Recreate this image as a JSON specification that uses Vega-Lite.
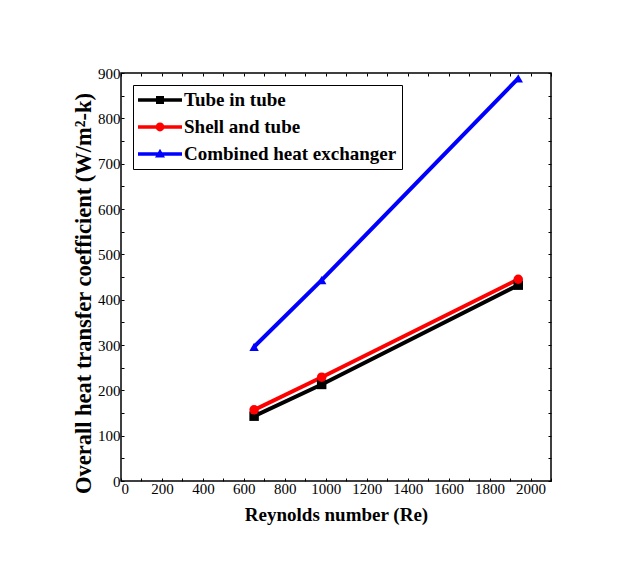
{
  "$schema": "https://vega.github.io/schema/vega-lite/v6.json",
  "width": 430,
  "height": 408,
  "autosize": {"type": "none"},
  "padding": {"left": 121, "top": 73, "right": 84, "bottom": 91},
  "background": "white",
  "config": {
    "view": {"stroke": "black", "strokeWidth": 1.5},
    "axis": {
      "grid": false,
      "domain": false,
      "tickColor": "black",
      "tickSize": -3,
      "tickWidth": 1,
      "labelFont": "Liberation Sans Narrow",
      "labelFontSize": 15,
      "labelColor": "black",
      "titleFont": "Liberation Serif",
      "titleFontWeight": "bold",
      "titleFontSize": 19,
      "titleColor": "black"
    }
  },
  "data": {
    "values": [
      {"Re": 650, "U": 143, "Series": "Tube in tube", "Marker": "a"},
      {"Re": 980, "U": 213, "Series": "Tube in tube", "Marker": "a"},
      {"Re": 1940, "U": 432, "Series": "Tube in tube", "Marker": "a"},
      {"Re": 650, "U": 157, "Series": "Shell and tube", "Marker": "b"},
      {"Re": 980, "U": 229, "Series": "Shell and tube", "Marker": "b"},
      {"Re": 1940, "U": 445, "Series": "Shell and tube", "Marker": "b"},
      {"Re": 650, "U": 296, "Series": "Combined heat exchanger", "Marker": "c"},
      {"Re": 980, "U": 443, "Series": "Combined heat exchanger", "Marker": "c"},
      {"Re": 1940, "U": 888, "Series": "Combined heat exchanger", "Marker": "c"}
    ]
  },
  "resolve": {"axis": {"x": "independent", "y": "independent"}},
  "layer": [
    {
      "mark": {"type": "line", "strokeWidth": 4},
      "encoding": {
        "x": {
          "field": "Re", "type": "quantitative",
          "scale": {"domain": [0, 2100], "nice": false},
          "axis": {
            "title": "Reynolds number (Re)",
            "values": [0,100,200,300,400,500,600,700,800,900,1000,1100,1200,1300,1400,1500,1600,1700,1800,1900,2000,2100],
            "format": "d",
            "labelExpr": "datum.value % 200 == 0 ? datum.label : ''",
            "labelPadding": 3,
            "titlePadding": 9
          }
        },
        "y": {
          "field": "U", "type": "quantitative",
          "scale": {"domain": [0, 900], "nice": false},
          "axis": {
            "title": "Overall heat transfer coefficient (W/m²-k)",
            "titleFontSize": 22.5,
            "titleY": 220,
            "values": [0,50,100,150,200,250,300,350,400,450,500,550,600,650,700,750,800,850,900],
            "labelExpr": "datum.value % 100 == 0 ? datum.label : ''",
            "labelPadding": 4,
            "titlePadding": 2
          }
        },
        "color": {
          "field": "Series", "type": "nominal",
          "scale": {
            "domain": ["Tube in tube", "Shell and tube", "Combined heat exchanger"],
            "range": ["black", "red", "blue"]
          },
          "legend": {
            "title": null,
            "orient": "none",
            "legendX": 12,
            "legendY": 12,
            "fillColor": "white",
            "strokeColor": "black",
            "padding": 5,
            "rowPadding": 7,
            "labelFont": "Liberation Serif",
            "labelFontWeight": "bold",
            "labelFontSize": 19,
            "labelColor": "black",
            "labelLimit": 0,
            "labelOffset": 26,
            "symbolSize": 400,
            "encode": {
              "symbols": {
                "update": {
                  "shape": {"signal": "datum.value === 'Tube in tube' ? 'M-1,-0.18H3.4V0.18H-1Z M0.8,-0.4H1.6V0.4H0.8Z' : datum.value === 'Shell and tube' ? 'M-1,-0.18H3.4V0.18H-1Z M0.76,0A0.44,0.44 0 1,1 1.64,0A0.44,0.44 0 1,1 0.76,0Z' : 'M-1,-0.18H3.4V0.18H-1Z M0.7,0.36L1.2,-0.52L1.7,0.36Z'"},
                  "fill": {"signal": "datum.value === 'Tube in tube' ? 'black' : datum.value === 'Shell and tube' ? 'red' : 'blue'"},
                  "stroke": {"value": "transparent"},
                  "strokeWidth": {"value": 0},
                  "opacity": {"value": 1}
                }
              }
            }
          }
        }
      }
    },
    {
      "mark": {"type": "point", "filled": true, "opacity": 1, "size": 90},
      "encoding": {
        "x": {"field": "Re", "type": "quantitative", "axis": null},
        "y": {"field": "U", "type": "quantitative", "axis": null},
        "color": {"field": "Series", "type": "nominal", "legend": null},
        "shape": {
          "field": "Marker", "type": "nominal",
          "scale": {
            "domain": ["a", "b", "c"],
            "range": ["square", "circle", "triangle-up"]
          },
          "legend": null
        }
      }
    },
    {
      "mark": {"type": "point", "opacity": 0},
      "encoding": {
        "x": {
          "field": "Re", "type": "quantitative",
          "axis": {
            "orient": "top", "title": null, "labels": false,
            "values": [0,100,200,300,400,500,600,700,800,900,1000,1100,1200,1300,1400,1500,1600,1700,1800,1900,2000,2100]
          }
        },
        "y": {
          "field": "U", "type": "quantitative",
          "axis": {
            "orient": "right", "title": null, "labels": false,
            "values": [0,50,100,150,200,250,300,350,400,450,500,550,600,650,700,750,800,850,900]
          }
        }
      }
    }
  ]
}
